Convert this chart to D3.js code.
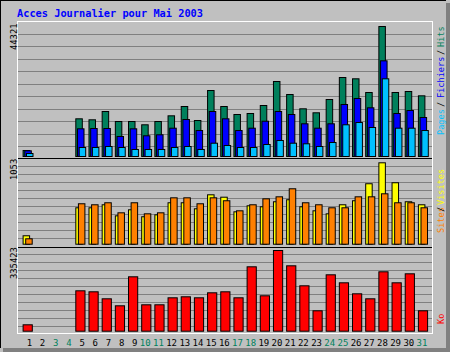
<!DOCTYPE html>
<html>
<head>
<meta charset="utf-8">
<script src="https://cdn.jsdelivr.net/npm/d3@7"></script>
<style>
  html, body { margin: 0; padding: 0; background: #c0c0c0; }
  svg { display: block; }
  text { font-family: "DejaVu Sans Mono", monospace; }
</style>
</head>
<body>
<svg id="chart"></svg>
<script>
// Daily access stats, May 2003 (days 2-4 have no data)
let days = d3.range(1, 32);
let hits = [2045, 0, 0, 0, 12850, 12510, 15340, 11930, 11930, 10810, 11930, 13870, 17045, 12270, 22500, 17045,
    14320, 14660, 17385, 25570, 21135, 16260, 14900, 19430, 26930, 26490, 21820, 44321, 21820, 22160, 20690];
let files = [1940, 0, 0, 0, 9440, 9545, 9545, 6820, 9440, 7060, 7400, 9650, 12610, 8860, 15340, 12850,
    8860, 9650, 12030, 15340, 14320, 11150, 9650, 11150, 17730, 19770, 16600, 32620, 14660, 15680, 13300];
let pages = [1020, 0, 0, 0, 3070, 3070, 3410, 3070, 2390, 2390, 2390, 3070, 3410, 2390, 4530, 3750,
    3070, 3070, 4090, 5450, 4530, 4330, 3410, 4770, 10810, 11590, 9890, 26490, 9650, 9650, 8860];
let visits = [109, 0, 0, 0, 471, 471, 510, 367, 445, 355, 380, 536, 536, 458, 639, 608,
    419, 497, 484, 549, 575, 484, 432, 393, 510, 562, 782, 1053, 795, 549, 510];
let sites = [70, 0, 0, 0, 523, 510, 536, 406, 536, 393, 406, 600, 600, 523, 600, 562,
    432, 510, 587, 613, 717, 536, 510, 471, 471, 613, 613, 652, 536, 536, 471];
let kbytes = [26600, 0, 0, 0, 167900, 163750, 134650, 105560, 226090, 109720, 109720, 138810, 142970, 138810,
    159590, 163750, 138810, 267650, 147120, 335423, 271800, 188680, 84780, 234400, 201150, 155430, 134650,
    246870, 201150, 238550, 84780];
let weekendDays = [3, 4, 10, 11, 17, 18, 24, 25, 31];

let title = "Acces Journalier pour Mai 2003";

let colors = {
    hits: "#00805c", files: "#0000ff", pages: "#00c0ff",
    visits: "#ffff00", sites: "#ff8000", kbytes: "#ff0000",
    grid: "#808080", shadow: "#808080", bg: "#c0c0c0"
};

let width = 450, height = 352;
let frame = {left: 17, right: 432, top: 21, bottom: 333};
let dividers = [158, 247];

let svg = d3.select("#chart")
    .attr("width", width)
    .attr("height", height);

// background + 3D-ish border
svg.append("rect").attr("width", width).attr("height", height).attr("fill", colors.bg);
svg.append("rect").attr("x", width - 4).attr("y", 3).attr("width", 4).attr("height", height - 3).attr("fill", colors.shadow);
svg.append("rect").attr("x", 3).attr("y", height - 4).attr("width", width - 3).attr("height", 4).attr("fill", colors.shadow);
svg.append("line").attr("x1", 0).attr("x2", width - 4).attr("y1", 0.5).attr("y2", 0.5).attr("stroke", "#000");
svg.append("line").attr("x1", 0.5).attr("x2", 0.5).attr("y1", 0).attr("y2", height - 4).attr("stroke", "#000");

svg.append("text")
    .attr("x", 17).attr("y", 17)
    .attr("fill", "#0000ff")
    .attr("font-size", 10.3)
    .attr("font-weight", "bold")
    .text(title);

// x scale: left edge of each day's bar group
let x = d3.scaleLinear().domain([1, 31]).range([22.6, 417.9]);

// y scales for the three panels
let yTop = d3.scaleLinear().domain([0, d3.max(hits)]).range([156, 26]);
let yMid = d3.scaleLinear().domain([0, d3.max(visits)]).range([243.7, 162.3]);
let yBot = d3.scaleLinear().domain([0, d3.max(kbytes)]).range([330.7, 250]);

// grid lines
let grid = svg.append("g").attr("stroke", colors.grid).attr("shape-rendering", "crispEdges");
let gridRows = [
    ...d3.range(10).map(k => 34 + k * 12.44),
    ...d3.range(10).map(k => 166 + k * 8.03),
    ...d3.range(10).map(k => 254 + k * 8.0)
];
grid.selectAll("line")
    .data(gridRows)
    .join("line")
    .attr("x1", frame.left).attr("x2", frame.right)
    .attr("y1", d => Math.round(d) + 0.5).attr("y2", d => Math.round(d) + 0.5);

// panel frame
let edges = svg.append("g").attr("shape-rendering", "crispEdges");
edges.selectAll("line.div")
    .data(dividers)
    .join("line")
    .attr("x1", frame.left).attr("x2", frame.right)
    .attr("y1", d => d + 0.5).attr("y2", d => d + 0.5)
    .attr("stroke", "#000");
edges.append("path")
    .attr("d", `M${frame.left + 0.5},${frame.bottom + 0.5}V${frame.top + 0.5}H${frame.right + 0.5}V${frame.bottom + 0.5}H${frame.left + 0.5}`)
    .attr("fill", "none")
    .attr("stroke", "#fff");

function drawBars(values, scale, offset, barWidth, fill) {
    svg.append("g")
        .selectAll("rect")
        .data(days.filter((d, i) => values[i] > 0))
        .join("rect")
        .attr("x", d => x(d) + offset + 0.5)
        .attr("y", d => scale(values[d - 1]) + 0.5)
        .attr("width", barWidth)
        .attr("height", d => scale(0) - scale(values[d - 1]))
        .attr("fill", fill)
        .attr("stroke", "#000")
        .attr("stroke-width", 1);
}

drawBars(hits, yTop, 0, 6.5, colors.hits);
drawBars(files, yTop, 1.7, 6.5, colors.files);
drawBars(pages, yTop, 3.4, 6.5, colors.pages);
drawBars(visits, yMid, 0, 6.5, colors.visits);
drawBars(sites, yMid, 2.6, 6.5, colors.sites);
drawBars(kbytes, yBot, 0, 9.2, colors.kbytes);

// max value labels on the left
let maxLabels = [
    {text: d3.max(hits), y: 50},
    {text: d3.max(visits), y: 180},
    {text: d3.max(kbytes), y: 279}
];
svg.selectAll("text.max")
    .data(maxLabels)
    .join("text")
    .attr("class", "max")
    .attr("transform", d => `translate(16.5,${d.y}) rotate(-90)`)
    .attr("font-size", 8.8)
    .attr("fill", "#000")
    .text(d => d.text);

// legends on the right
let legend = [
    {text: "Pages", y: 135, color: colors.pages},
    {text: "/", y: 107, color: "#000"},
    {text: "Fichiers", y: 98, color: colors.files},
    {text: "/", y: 55, color: "#000"},
    {text: "Hits", y: 47, color: colors.hits},
    {text: "Sites", y: 233, color: colors.sites},
    {text: "/", y: 212, color: "#000"},
    {text: "Visites", y: 205, color: colors.visits},
    {text: "Ko", y: 324, color: colors.kbytes}
];
svg.selectAll("text.legend")
    .data(legend)
    .join("text")
    .attr("class", "legend")
    .attr("transform", d => `translate(444,${d.y}) rotate(-90)`)
    .attr("font-size", 8.6)
    .attr("fill", d => d.color)
    .text(d => d.text);

// day labels
svg.selectAll("text.day")
    .data(days)
    .join("text")
    .attr("class", "day")
    .attr("x", d => x(d) + 9.5)
    .attr("y", 346)
    .attr("text-anchor", "end")
    .attr("font-size", 9)
    .attr("fill", d => weekendDays.includes(d) ? colors.hits : "#000")
    .text(d => d);
</script>
</body>
</html>
